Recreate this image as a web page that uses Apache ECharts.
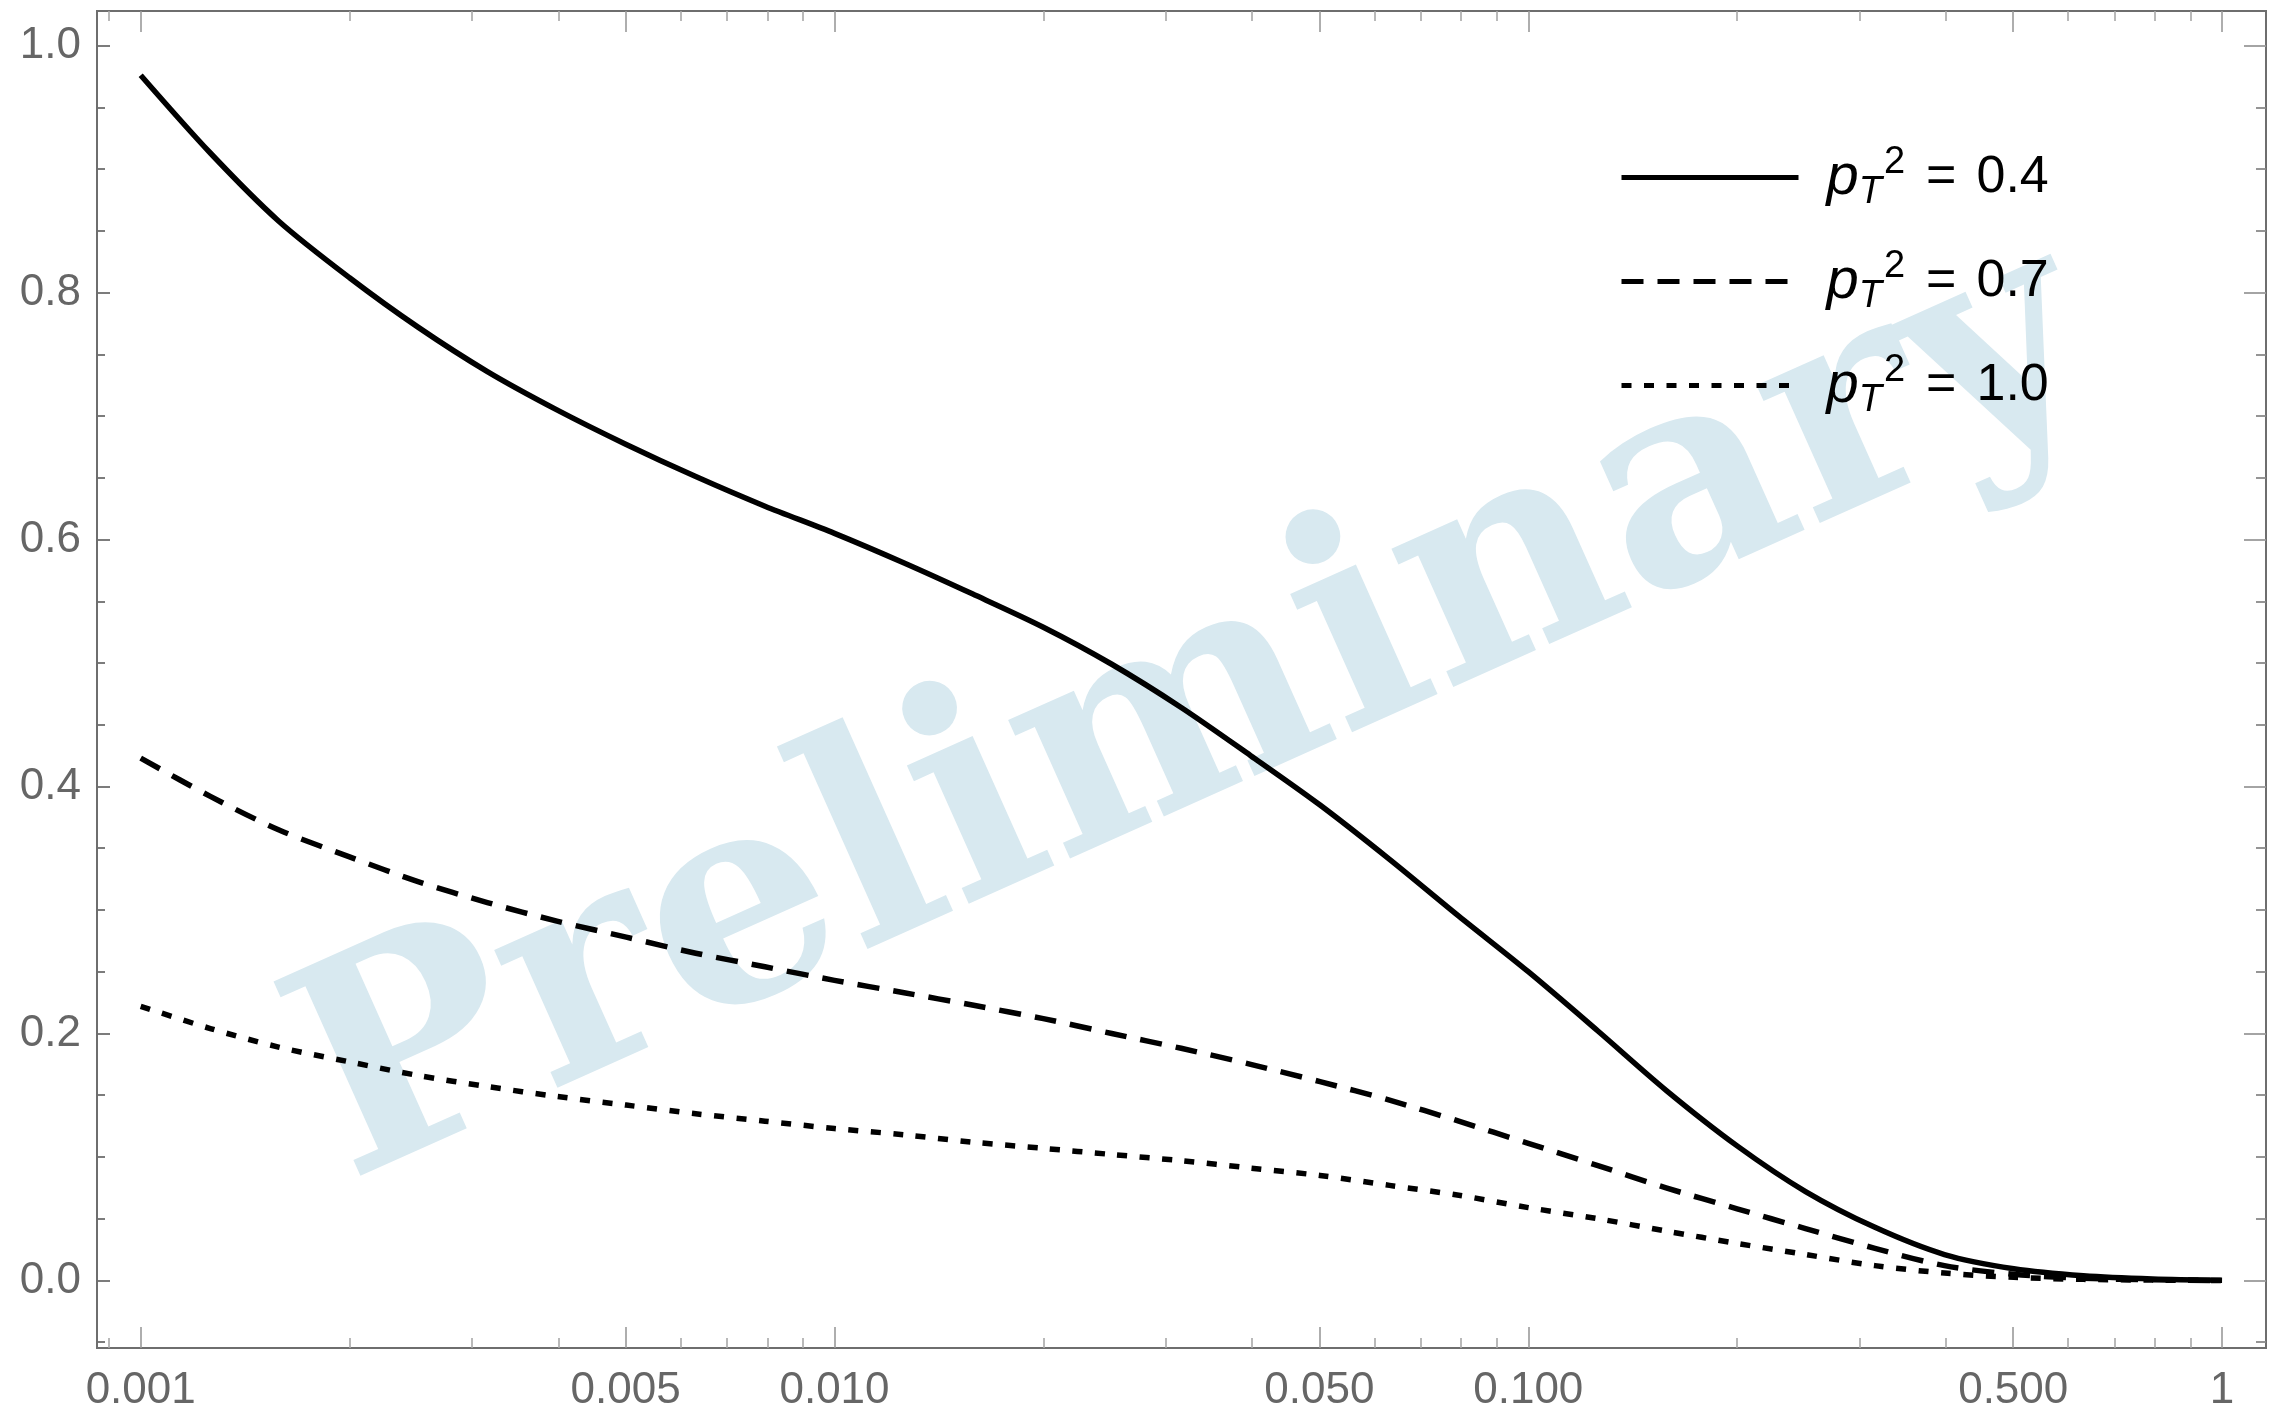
<!DOCTYPE html>
<html>
<head>
<meta charset="utf-8">
<script src="https://cdn.jsdelivr.net/npm/echarts@6/dist/echarts.min.js"></script>
<style>
  html, body { margin: 0; padding: 0; background: #ffffff; }
  #chart { width: 2274px; height: 1413px; }
</style>
</head>
<body>
<div id="chart"></div>
<script>
// x grid shared by the three curves (0.1-decade steps)
const xValues = [0.001, 0.00126, 0.00158, 0.002, 0.00251, 0.00316, 0.00398, 0.00501, 0.00631, 0.00794,
                 0.01, 0.0126, 0.0158, 0.02, 0.0251, 0.0316, 0.0398, 0.0501, 0.0631, 0.0794,
                 0.1, 0.126, 0.158, 0.2, 0.251, 0.316, 0.398, 0.501, 0.631, 0.794, 1.0];

// pT^2 = 0.4 (solid)
const curvePt04 = [0.976, 0.913, 0.858, 0.812, 0.772, 0.736, 0.705, 0.677, 0.651, 0.627,
                   0.605, 0.581, 0.556, 0.529, 0.499, 0.464, 0.425, 0.385, 0.341, 0.295,
                   0.250, 0.202, 0.154, 0.109, 0.072, 0.043, 0.021, 0.0095, 0.0038, 0.0012, 0.0002];

// pT^2 = 0.7 (dashed)
const curvePt07 = [0.423, 0.392, 0.365, 0.343, 0.323, 0.306, 0.291, 0.278, 0.265, 0.254,
                   0.243, 0.233, 0.223, 0.212, 0.200, 0.188, 0.175, 0.161, 0.146, 0.129,
                   0.111, 0.093, 0.075, 0.058, 0.042, 0.026, 0.012, 0.005, 0.0018, 0.0005, 0.0];

// pT^2 = 1.0 (dotted)
const curvePt10 = [0.222, 0.204, 0.189, 0.177, 0.166, 0.157, 0.149, 0.142, 0.135, 0.129,
                   0.123, 0.118, 0.112, 0.107, 0.102, 0.097, 0.091, 0.085, 0.077, 0.069,
                   0.059, 0.050, 0.040, 0.030, 0.021, 0.012, 0.006, 0.0025, 0.0009, 0.0003, 0.0];

const legendValues = ['0.4', '0.7', '1.0'];

const xMajorTicks = [0.001, 0.005, 0.01, 0.05, 0.1, 0.5, 1];
const xTickLabels = ['0.001', '0.005', '0.010', '0.050', '0.100', '0.500', '1'];
const xMinorTicks = [0.0009, 0.002, 0.003, 0.004, 0.006, 0.007, 0.008, 0.009,
                     0.02, 0.03, 0.04, 0.06, 0.07, 0.08, 0.09,
                     0.2, 0.3, 0.4, 0.6, 0.7, 0.8, 0.9];
const yMajorTicks = [0, 0.2, 0.4, 0.6, 0.8, 1.0];
const yMinorTicks = [-0.05, 0.05, 0.1, 0.15, 0.25, 0.3, 0.35, 0.45, 0.5, 0.55,
                     0.65, 0.7, 0.75, 0.85, 0.9, 0.95];

const X_MIN = 0.000865, X_MAX = 1.157;
const Y_MIN = -0.0547, Y_MAX = 1.028;

const FRAME = '#6e6e6e';
const LABEL = '#666666';
const SANS = '"Liberation Sans", Arial, sans-serif';

function xLabelText(v) {
  for (let i = 0; i < xMajorTicks.length; i++) {
    if (Math.abs(Math.log10(v) - Math.log10(xMajorTicks[i])) < 1e-6) return xTickLabels[i];
  }
  return '';
}

function makeX(position, ticks, len, tickColor, withLabels) {
  return {
    type: 'log', logBase: 10, gridIndex: 0, position: position,
    min: X_MIN, max: X_MAX,
    axisLine: { show: true, onZero: false, lineStyle: { color: FRAME, width: 2 } },
    axisTick: { show: true, inside: true, length: len, customValues: ticks,
                lineStyle: { color: tickColor, width: 1.6 } },
    axisLabel: withLabels ? {
      show: true, customValues: ticks, margin: 21, color: LABEL, fontSize: 44,
      fontFamily: SANS, formatter: xLabelText
    } : { show: false, customValues: ticks },
    splitLine: { show: false }, minorTick: { show: false }, minorSplitLine: { show: false }
  };
}

function makeY(position, ticks, len, tickColor, withLabels) {
  return {
    type: 'value', gridIndex: 0, position: position,
    min: Y_MIN, max: Y_MAX,
    axisLine: { show: true, onZero: false, lineStyle: { color: FRAME, width: 2 } },
    axisTick: { show: true, inside: true, length: len, customValues: ticks,
                lineStyle: { color: tickColor, width: 1.8 } },
    axisLabel: withLabels ? {
      show: true, customValues: ticks, margin: 16, color: LABEL, fontSize: 44,
      fontFamily: SANS, formatter: v => v.toFixed(1)
    } : { show: false, customValues: ticks },
    splitLine: { show: false }, minorTick: { show: false }, minorSplitLine: { show: false }
  };
}

function pairs(ys) { return xValues.map((x, i) => [x, ys[i]]); }

const lineStyles = [
  { type: 'solid' },
  { type: [22, 14] },
  { type: [10, 12.5] }
];
const curves = [curvePt04, curvePt07, curvePt10];

const series = curves.map((ys, k) => ({
  name: legendValues[k],
  type: 'line',
  xAxisIndex: 0, yAxisIndex: 0,
  data: pairs(ys),
  symbol: 'none', showSymbol: false,
  smooth: 0.3,
  z: 3,
  lineStyle: Object.assign({ color: '#000000', width: 5.5, cap: 'butt', join: 'round' }, lineStyles[k]),
  emphasis: { disabled: true }
}));

const chart = echarts.init(document.getElementById('chart'), null, { renderer: 'canvas' });

chart.setOption({
  animation: false,
  backgroundColor: '#ffffff',
  grid: { left: 97, right: 8, top: 11, bottom: 62, containLabel: false },
  xAxis: [
    makeX('bottom', xMajorTicks, 21, '#9a9a9a', true),
    makeX('bottom', xMinorTicks, 10, '#a8a8a8', false),
    makeX('top', xMajorTicks, 21, '#9a9a9a', false),
    makeX('top', xMinorTicks, 10, '#a8a8a8', false)
  ],
  yAxis: [
    makeY('left', yMajorTicks, 13, '#6e6e6e', true),
    makeY('left', yMinorTicks, 8, '#6e6e6e', false),
    makeY('right', yMajorTicks, 22, '#9a9a9a', false),
    makeY('right', yMinorTicks, 10, '#8a8a8a', false)
  ],
  legend: {
    orient: 'vertical',
    left: 1614, top: 138.5,
    itemWidth: 177, itemHeight: 80, itemGap: 36,
    selectedMode: false,
    itemStyle: { opacity: 0 },
    lineStyle: { width: 5 },
    data: legendValues,
    formatter: name => '{p|p}{t|T}{s|2}{e|=}{v|' + name + '}',
    textStyle: {
      color: '#000000',
      rich: {
        p: { fontSize: 58, fontStyle: 'italic', fontFamily: SANS, color: '#000',
             lineHeight: 84, padding: [0, 0, 0, 23] },
        t: { fontSize: 38, fontStyle: 'italic', fontFamily: SANS, color: '#000',
             padding: [30, 0, 0, 0] },
        s: { fontSize: 38, fontFamily: SANS, color: '#000', padding: [0, 0, 30, 2] },
        e: { fontSize: 52, fontFamily: SANS, color: '#000', lineHeight: 84,
             padding: [0, 20, 0, 21] },
        v: { fontSize: 52, fontFamily: SANS, color: '#000', lineHeight: 84 }
      }
    }
  },
  graphic: [{
    type: 'text',
    x: 1196, y: 719,
    rotation: 24.1 * Math.PI / 180,
    z: 0,
    silent: true,
    style: {
      text: 'Preliminary',
      font: 'bold 292px "DejaVu Serif", serif',
      fill: '#d8e9f0',
      align: 'center',
      verticalAlign: 'middle'
    }
  }],
  series: series
});
</script>
</body>
</html>
